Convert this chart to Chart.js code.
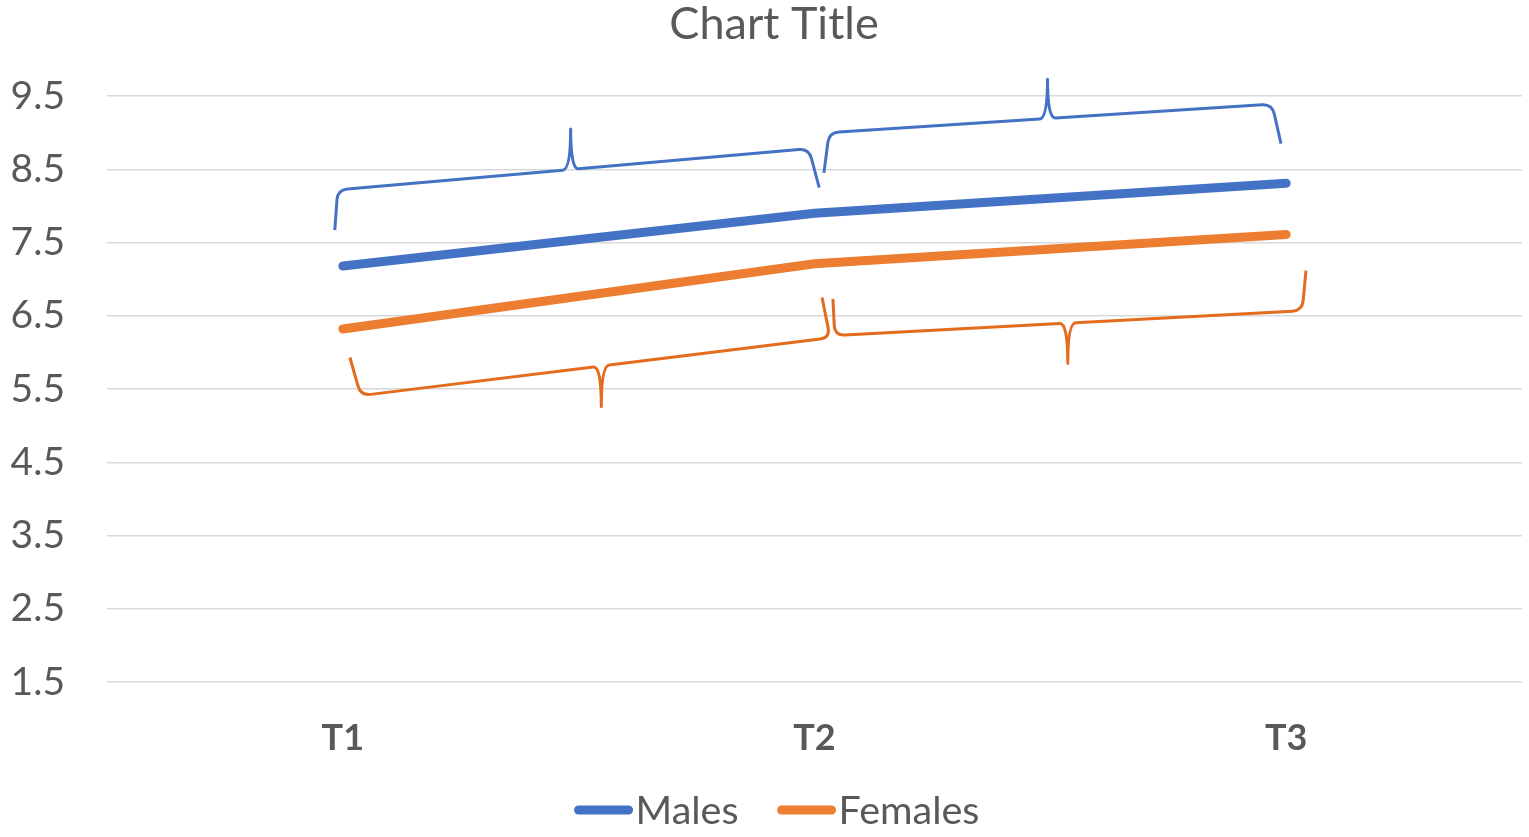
<!DOCTYPE html>
<html>
<head>
<meta charset="utf-8">
<title>Chart Title</title>
<script src="https://cdn.jsdelivr.net/npm/chart.js@4"></script>
<style>
    html, body { margin: 0; padding: 0; background: #fff; }
    #wrap { width: 1529px; height: 837px; }
</style>
</head>
<body>
<div id="wrap"><canvas id="lineChart"></canvas></div>
<script>
const categories = ['T1', 'T2', 'T3'];
const males = [7.18, 7.9, 8.31];
const females = [6.32, 7.21, 7.61];
const yTicks = [1.5, 2.5, 3.5, 4.5, 5.5, 6.5, 7.5, 8.5, 9.5];

// braces: [leg end, corner, tip, corner, leg end] as [category index, value]
const maleBraces = [
    [[-0.017, 7.67], [-0.011, 8.22], [0.483, 9.05], [0.988, 8.78], [1.01, 8.25]],
    [[1.02, 8.45], [1.031, 9.0], [1.494, 9.73], [1.97, 9.39], [1.989, 8.85]]
];
const femaleBraces = [
    [[0.015, 5.93], [0.038, 5.41], [0.548, 5.26], [1.033, 6.2], [1.016, 6.75]],
    [[1.039, 6.73], [1.043, 6.23], [1.537, 5.85], [2.034, 6.57], [2.042, 7.115]]
];

const BLUE = '#4472C4';
const ORANGE = '#ED7D31';
const TEXT = '#595959';
const FONT = 'Lato, "Open Sans", sans-serif';

function toPx(chart, p) {
    return { x: chart.scales.x.getPixelForValue(p[0]), y: chart.scales.y.getPixelForValue(p[1]) };
}

function unit(a, b) {
    const dx = b.x - a.x, dy = b.y - a.y;
    const len = Math.hypot(dx, dy) || 1;
    return { x: dx / len, y: dy / len };
}

function drawBrace(ctx, chart, pts, color) {
    const [a, b, t, c, d] = pts.map(p => toPx(chart, p));
    const r = 10, w = 8;
    // point on the b-c line under the tip
    const k = (t.x - b.x) / (c.x - b.x);
    const m = { x: t.x, y: b.y + k * (c.y - b.y) };
    const ub = unit(b, c);
    const ua = unit(b, a);
    const ud = unit(c, d);

    ctx.beginPath();
    ctx.moveTo(a.x, a.y);
    ctx.lineTo(b.x + ua.x * r, b.y + ua.y * r);
    ctx.quadraticCurveTo(b.x, b.y, b.x + ub.x * r, b.y + ub.y * r);
    ctx.lineTo(m.x - ub.x * w, m.y - ub.y * w);
    ctx.quadraticCurveTo(m.x, m.y, t.x, t.y);
    ctx.quadraticCurveTo(m.x, m.y, m.x + ub.x * w, m.y + ub.y * w);
    ctx.lineTo(c.x - ub.x * r, c.y - ub.y * r);
    ctx.quadraticCurveTo(c.x, c.y, c.x + ud.x * r, c.y + ud.y * r);
    ctx.lineTo(d.x, d.y);
    ctx.strokeStyle = color;
    ctx.lineWidth = 3;
    ctx.lineJoin = 'round';
    ctx.lineCap = 'butt';
    ctx.stroke();
}

const bracePlugin = {
    id: 'braces',
    afterDatasetsDraw(chart) {
        const ctx = chart.ctx;
        ctx.save();
        maleBraces.forEach(b => drawBrace(ctx, chart, b, BLUE));
        femaleBraces.forEach(b => drawBrace(ctx, chart, b, '#E36C1E'));
        ctx.restore();
    }
};

// nudge the title a little right of the canvas centre
const titleShift = {
    id: 'titleShift',
    afterLayout(chart) {
        if (chart.titleBlock) chart.titleBlock.left += 19;
    }
};

// legend with a short gap between the line swatch and its label
const lineLegend = {
    id: 'lineLegend',
    afterDraw(chart) {
        const ctx = chart.ctx;
        const sw = 58, gap = 3, spacing = 39, y = 810;
        ctx.save();
        ctx.font = '39.5px ' + FONT;
        const items = chart.data.datasets.map(ds => ({
            text: ds.label, color: ds.borderColor, w: ctx.measureText(ds.label).width
        }));
        const total = items.reduce((s, it) => s + sw + gap + it.w, 0) + spacing * (items.length - 1);
        const center = (chart.titleBlock.left + chart.titleBlock.right) / 2 + 3;
        let x = center - total / 2;
        items.forEach(it => {
            ctx.beginPath();
            ctx.moveTo(x + 4, y);
            ctx.lineTo(x + sw - 4, y);
            ctx.strokeStyle = it.color;
            ctx.lineWidth = 9;
            ctx.lineCap = 'round';
            ctx.stroke();
            ctx.fillStyle = TEXT;
            ctx.textBaseline = 'middle';
            ctx.fillText(it.text, x + sw + gap, y + 1);
            x += sw + gap + it.w + spacing;
        });
        ctx.restore();
    }
};

new Chart(document.getElementById('lineChart'), {
    type: 'line',
    data: {
        labels: categories,
        datasets: [
            {
                label: 'Males',
                data: males,
                borderColor: BLUE,
                backgroundColor: BLUE,
                borderWidth: 9,
                borderCapStyle: 'round',
                pointRadius: 0,
                tension: 0
            },
            {
                label: 'Females',
                data: females,
                borderColor: ORANGE,
                backgroundColor: ORANGE,
                borderWidth: 9,
                borderCapStyle: 'round',
                pointRadius: 0,
                tension: 0
            }
        ]
    },
    options: {
        responsive: true,
        maintainAspectRatio: false,
        animation: false,
        layout: { padding: { left: 7, right: 7, top: 0, bottom: 79 } },
        scales: {
            x: {
                offset: true,
                grid: { display: false },
                border: { display: false },
                afterFit: axis => { axis.height = 76; },
                ticks: {
                    color: TEXT,
                    padding: 27,
                    font: { family: FONT, size: 36, weight: 'bold' }
                }
            },
            y: {
                min: 1.5,
                max: 9.5,
                afterBuildTicks: axis => { axis.ticks = yTicks.map(v => ({ value: v })); },
                afterFit: axis => { axis.width = 100; },
                grid: { color: '#D9D9D9', lineWidth: 1.5, drawTicks: false },
                border: { display: false },
                ticks: {
                    color: TEXT,
                    padding: 42,
                    font: { family: FONT, size: 39 },
                    callback: v => v.toFixed(1)
                }
            }
        },
        plugins: {
            legend: { display: false },
            tooltip: { enabled: false },
            title: {
                display: true,
                text: 'Chart Title',
                color: TEXT,
                font: { family: FONT, size: 45, weight: 'normal', lineHeight: 1.0 },
                padding: { top: 2, bottom: 49 }
            }
        }
    },
    plugins: [bracePlugin, titleShift, lineLegend]
});
</script>
</body>
</html>
